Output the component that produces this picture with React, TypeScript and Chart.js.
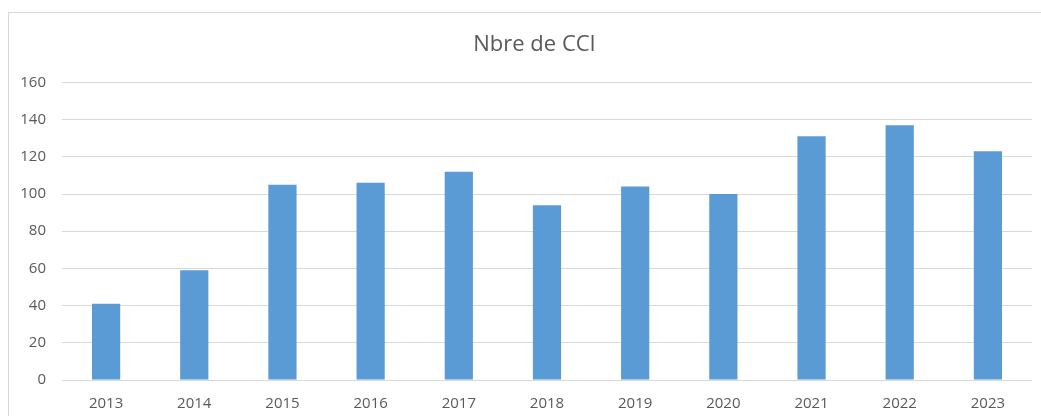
import React, { useEffect, useRef } from "react";
import { Chart, registerables } from "chart.js";

Chart.register(...registerables);

const categories: string[] = ["2013", "2014", "2015", "2016", "2017", "2018", "2019", "2020", "2021", "2022", "2023"];
const values: number[] = [41, 59, 105, 106, 112, 94, 104, 100, 131, 137, 123];
const chartTitle = "Nbre de CCI";
const yMin = 0;
const yMax = 160;
const yStep = 20;

const titleFont = "22px 'Open Sans', sans-serif";

const shiftedTitle = {
  id: "shiftedTitle",
  afterDraw(chart: any) {
    const tb = chart.titleBlock;
    if (!tb) return;
    const ctx = chart.ctx;
    ctx.save();
    ctx.font = titleFont;
    ctx.fillStyle = "#595959";
    ctx.textAlign = "center";
    ctx.textBaseline = "middle";
    const cy = tb.top + 31 + (tb.height - 31 - 25) / 2;
    ctx.fillText(chartTitle, chart.width / 2 + 14, cy + 1);
    ctx.restore();
  },
};

export default function App() {
  const canvasRef = useRef<HTMLCanvasElement | null>(null);

  useEffect(() => {
    const canvas = canvasRef.current;
    if (!canvas) return;
    const chart = new Chart(canvas, {
      type: "bar",
      data: {
        labels: categories,
        datasets: [
          {
            label: chartTitle,
            data: values,
            backgroundColor: "#5B9BD5",
            borderWidth: 0,
            barPercentage: 0.32,
            categoryPercentage: 1,
          },
        ],
      },
      plugins: [shiftedTitle],
      options: {
        animation: false,
        responsive: false,
        maintainAspectRatio: false,
        layout: { padding: { left: 0, right: 9, top: 0, bottom: 0 } },
        plugins: {
          legend: { display: false },
          tooltip: { enabled: false },
          title: {
            display: true,
            text: chartTitle,
            color: "rgba(0,0,0,0)",
            font: { family: "'Open Sans', sans-serif", size: 22, weight: "normal" },
            padding: { top: 31, bottom: 25 },
          },
        },
        scales: {
          x: {
            afterFit: (scale: any) => {
              scale.height = 36;
            },
            grid: { display: false, drawTicks: false },
            border: { display: false },
            ticks: {
              color: "#595959",
              font: { family: "'Open Sans', sans-serif", size: 15 },
              padding: 15,
              maxRotation: 0,
            },
          },
          y: {
            min: yMin,
            max: yMax,
            afterFit: (scale: any) => {
              scale.width = 62;
            },
            grid: { color: "#d9d9d9", lineWidth: 1, drawTicks: false },
            border: { display: false },
            ticks: {
              stepSize: yStep,
              color: "#595959",
              font: { family: "'Open Sans', sans-serif", size: 15 },
              padding: 16,
            },
          },
        },
      },
    });
    return () => chart.destroy();
  }, []);

  return (
    <div
      style={{
        position: "fixed",
        left: 0,
        top: 0,
        width: 1041,
        height: 416,
        overflow: "hidden",
        background: "#ffffff",
      }}
    >
      <div
        style={{
          position: "absolute",
          left: 8,
          top: 12,
          width: 1100,
          height: 500,
          border: "1px solid #d9d9d9",
          boxSizing: "border-box",
        }}
      />
      <canvas
        ref={canvasRef}
        width={1041}
        height={416}
        style={{ position: "absolute", left: 0, top: 0, width: 1041, height: 416 }}
      />
    </div>
  );
}
